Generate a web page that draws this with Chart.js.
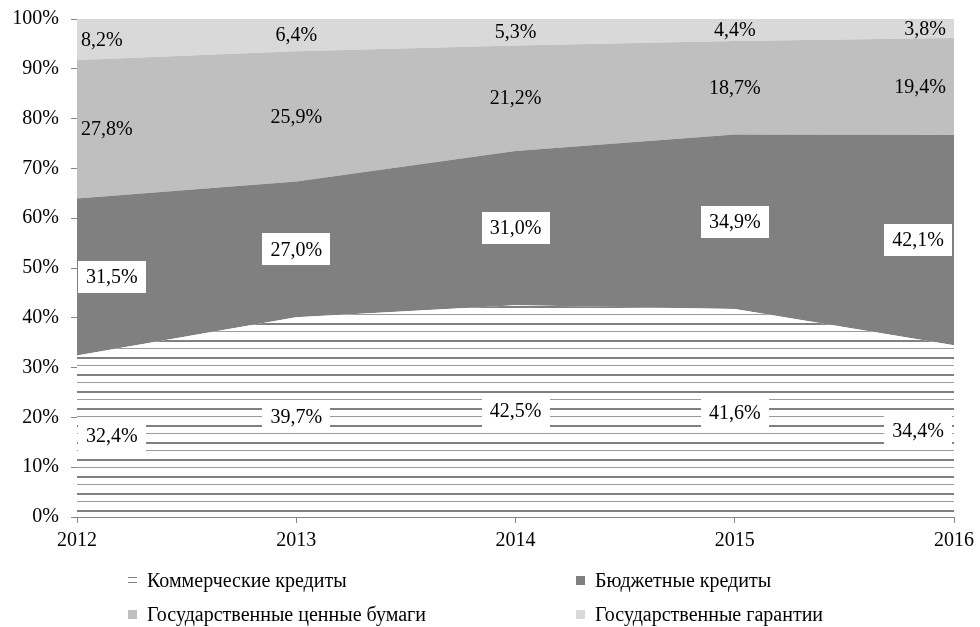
<!DOCTYPE html>
<html>
<head>
<meta charset="utf-8">
<script src="https://cdn.jsdelivr.net/npm/chart.js@4"></script>
<style>
  html, body { margin: 0; padding: 0; background: #fff; }
  #wrap { position: relative; width: 980px; height: 627px; }
  #legend { position: absolute; left: 0; top: 0; width: 980px; height: 627px; pointer-events: none;
    font-family: "Liberation Serif", "Times New Roman", serif; font-size: 20px; color: #000; }
  .li { position: absolute; display: flex; align-items: center; white-space: nowrap; }
  .mk { width: 9px; height: 9px; margin-right: 10px; }
  .mk.hatch { height: 7px; background: linear-gradient(#808080 0 1px, transparent 1px 5px, #808080 5px 6px, transparent 6px); }
</style>
</head>
<body>
<div id="wrap">
  <canvas id="c" width="980" height="627"></canvas>
  <div id="legend"></div>
</div>
<script>
const $ = (s) => document.querySelector(s);

// data (shares, %)
const years = ["2012", "2013", "2014", "2015", "2016"];
const commercial = [32.4, 39.7, 42.5, 41.6, 34.4];
const budget = [31.5, 27.0, 31.0, 34.9, 42.1];
const securities = [27.8, 25.9, 21.2, 18.7, 19.4];
const guarantees = [8.2, 6.4, 5.3, 4.4, 3.8];
const seriesNames = ["Коммерческие кредиты", "Бюджетные кредиты", "Государственные ценные бумаги", "Государственные гарантии"];
const yTicks = [0, 10, 20, 30, 40, 50, 60, 70, 80, 90, 100];

const FONT = "Liberation Serif";
const GRAY = "#868686";
const values = [commercial, budget, securities, guarantees];

// 100% stacked: each year scaled to its own total
const totals = years.map((_, j) => values.reduce((s, d) => s + d[j], 0));
const shares = values.map((d) => d.map((v, j) => (v / totals[j]) * 100));

function hatchPattern() {
  const p = document.createElement("canvas");
  p.width = 16; p.height = 17;
  const g = p.getContext("2d");
  g.fillStyle = "#fff";
  g.fillRect(0, 0, 16, 17);
  g.fillStyle = "#808080";
  g.fillRect(0, 0, 16, 2);
  g.fillStyle = "#9a9a9a";
  g.fillRect(0, 8, 16, 1);
  return $("#c").getContext("2d").createPattern(p, "repeat");
}

const fmt = (v) => v.toFixed(1).replace(".", ",") + "%";

const labelsPlugin = {
  id: "bandLabels",
  afterDatasetsDraw(chart) {
    const ctx = chart.ctx;
    const xs = chart.scales.x, ys = chart.scales.y;
    ctx.save();
    ctx.font = `20px "${FONT}"`;
    ctx.textBaseline = "middle";
    years.forEach((_, j) => {
      let base = 0;
      values.forEach((d, i) => {
        const s = shares[i][j];
        const y = ys.getPixelForValue(base + s / 2);
        base += s;
        const x0 = xs.getPixelForValue(j);
        const txt = fmt(d[j]);
        const w = ctx.measureText(txt).width;
        const boxed = i < 2;
        const padX = 8, h = 32;
        let cx;
        if (j === 0) cx = x0 + (boxed ? 1 + padX : 4) + w / 2;
        else if (j === years.length - 1) cx = x0 - (boxed ? 2 + padX : 8) - w / 2;
        else cx = x0;
        if (boxed) {
          ctx.fillStyle = "#fff";
          ctx.fillRect(Math.round(cx - w / 2 - padX), Math.round(y - h / 2), Math.round(w + padX * 2), h);
        }
        ctx.fillStyle = "#000";
        ctx.textAlign = "center";
        ctx.fillText(txt, cx, y + 1);
      });
    });
    ctx.restore();
  },
};

const colors = [hatchPattern(), "#808080", "#bfbfbf", "#d9d9d9"];

new Chart($("#c"), {
  type: "line",
  data: {
    labels: years,
    datasets: shares.map((d, i) => ({
      label: seriesNames[i],
      data: d,
      backgroundColor: colors[i],
      borderWidth: 0,
      borderColor: "transparent",
      pointRadius: 0,
      tension: 0,
      fill: i === 0 ? "origin" : "-1",
    })),
  },
  options: {
    responsive: false,
    animation: false,
    layout: { padding: { left: 0, right: 25, top: 16, bottom: 70 } },
    plugins: { legend: { display: false }, tooltip: { enabled: false } },
    scales: {
      x: {
        offset: false,
        grid: { drawOnChartArea: false, drawTicks: true, tickLength: 6, color: GRAY },
        border: { color: GRAY, width: 1 },
        ticks: { color: "#000", font: { family: FONT, size: 20 }, padding: 6, maxRotation: 0 },
        afterFit: (s) => { s.height = 40; },
      },
      y: {
        stacked: true,
        min: 0,
        max: 100,
        afterBuildTicks: (s) => { s.ticks = yTicks.map((v) => ({ value: v })); },
        grid: { drawOnChartArea: false, drawTicks: true, tickLength: 6, color: GRAY },
        border: { color: GRAY, width: 1 },
        ticks: { color: "#000", font: { family: FONT, size: 20, lineHeight: 0.7 }, padding: 12, callback: (v) => v + "%" },
        afterFit: (s) => { s.width = 77; },
      },
    },
  },
  plugins: [labelsPlugin],
});

// legend, two columns by two rows
const legendPos = [
  { x: 128, y: 580, cls: "hatch", col: "" },
  { x: 576, y: 580, cls: "", col: "#808080" },
  { x: 128, y: 614, cls: "", col: "#bfbfbf" },
  { x: 576, y: 614, cls: "", col: "#d9d9d9" },
];
$("#legend").innerHTML = seriesNames
  .map((n, i) => {
    const p = legendPos[i];
    return `<div class="li" style="left:${p.x}px;top:${p.y - 12}px;height:24px">` +
      `<span class="mk ${p.cls}" style="${p.col ? "background:" + p.col : ""}"></span>${n}</div>`;
  })
  .join("");
</script>
</body>
</html>
